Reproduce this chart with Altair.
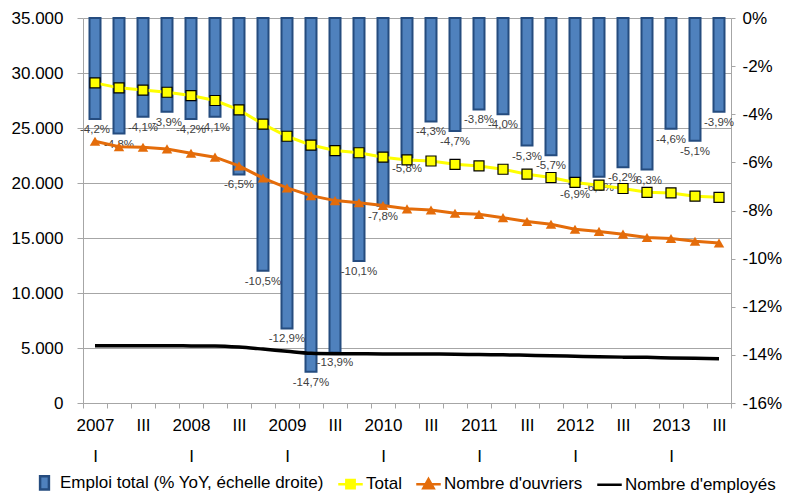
import altair as alt
import pandas as pd

years = ["2007", "2008", "2009", "2010", "2011", "2012", "2013"]
quarter_names = ["I", "II", "III", "IV"]
quarters = [f"{y} {q}" for y in years for q in quarter_names][:27]

# Emploi total, % YoY (right axis)
pct_yoy = [-4.2, -4.8, -4.1, -3.9, -4.2, -4.1, -6.5, -10.5, -12.9, -14.7, -13.9, -10.1,
           -7.8, -5.8, -4.3, -4.7, -3.8, -4.0, -5.3, -5.7, -6.9, -6.6, -6.2, -6.3,
           -4.6, -5.1, -3.9]
# Levels (left axis)
total = [29100, 28650, 28450, 28250, 27950, 27500, 26650, 25350, 24250, 23450, 22950, 22750,
         22350, 22100, 22000, 21700, 21550, 21250, 20800, 20500, 20050, 19800, 19500, 19150,
         19100, 18800, 18700]
ouvriers = [23800, 23300, 23250, 23100, 22700, 22350, 21550, 20450, 19550, 18850, 18400, 18200,
            17950, 17650, 17550, 17250, 17150, 16850, 16500, 16250, 15800, 15600, 15350, 15050,
            14950, 14700, 14550]
employes = [5200, 5200, 5200, 5200, 5190, 5180, 5080, 4900, 4700, 4520, 4480, 4470,
            4460, 4460, 4450, 4440, 4400, 4380, 4340, 4300, 4250, 4200, 4170, 4150,
            4100, 4060, 4030]

series_names = ["Emploi total (% YoY, échelle droite)", "Total", "Nombre d'ouvriers", "Nombre d'employés"]

left_ticks = [0, 5000, 10000, 15000, 20000, 25000, 30000, 35000]
right_ticks = [-16, -14, -12, -10, -8, -6, -4, -2, 0]

df = pd.DataFrame({"q": quarters, "pct": pct_yoy, "total": total,
                   "ouvriers": ouvriers, "employes": employes})
leg = pd.DataFrame({"series": series_names})

FONT = "Liberation Sans"
FS = 17
GRAY = "#A6A6A6"
BLUE = "#4F81BD"
BLUE_DARK = "#254C7F"
YELLOW = "#FFFF00"
ORANGE = "#E46C0A"

x_enc = alt.X(
    "q:O", sort=quarters,
    scale=alt.Scale(paddingInner=0, paddingOuter=0),
    axis=alt.Axis(
        title=None, labelAngle=0, labelFont=FONT, labelFontSize=FS, labelColor="#000",
        labelBaseline="top", labelLineHeight=31, labelPadding=9, labelOverlap=False,
        labelExpr="split(datum.value, ' ')[1] == 'I' ? [split(datum.value, ' ')[0], 'I'] : (split(datum.value, ' ')[1] == 'III' ? 'III' : '')",
        tickBand="extent", tickSize=5, tickColor=GRAY, domainColor=GRAY, grid=False,
    ),
)

base = alt.Chart(df)

y_right = alt.Y(
    "pct:Q", scale=alt.Scale(domain=[-16, 0], nice=False, zero=False),
    axis=alt.Axis(orient="right", values=right_ticks, labelExpr="datum.value + '%'", title=None,
                  grid=False, tickSize=4, tickColor=GRAY, domainColor=GRAY,
                  labelFont=FONT, labelFontSize=FS, labelColor="#000", labelPadding=7),
)

bars = base.mark_bar(width=11, fill=BLUE, stroke=BLUE_DARK, strokeWidth=2).encode(
    x=x_enc, y=y_right, y2=alt.datum(0)
)
bar_text = base.transform_calculate(
    lab="'-' + replace(format(abs(datum.pct), '.1f'), '.', ',') + '%'"
).mark_text(dy=11, baseline="middle", font=FONT, fontSize=11.5, color="#404040").encode(
    x=x_enc, y=alt.Y("pct:Q"), text="lab:N"
)
bars_group = alt.layer(bars, bar_text)

y_left_scale = alt.Scale(domain=[0, 35000], nice=False)
left_axis = alt.Axis(orient="left", values=left_ticks, title=None,
                     labelExpr="replace(format(datum.value, ','), ',', '.')",
                     grid=True, gridColor=GRAY, gridWidth=1, tickSize=6, tickColor=GRAY,
                     domainColor=GRAY, labelFont=FONT, labelFontSize=FS, labelColor="#000",
                     labelPadding=14)

emp_line = base.mark_line(color="#000", strokeWidth=3.5, interpolate="monotone").encode(
    x=x_enc, y=alt.Y("employes:Q", scale=y_left_scale, axis=left_axis))
ouv_line = base.mark_line(color=ORANGE, strokeWidth=3).encode(
    x=x_enc, y=alt.Y("ouvriers:Q", scale=y_left_scale))
ouv_pts = base.mark_point(shape="triangle-up", size=110, filled=True, fill=ORANGE, opacity=1).encode(
    x=x_enc, y=alt.Y("ouvriers:Q", scale=y_left_scale))
tot_line = base.mark_line(color=YELLOW, strokeWidth=3).encode(
    x=x_enc, y=alt.Y("total:Q", scale=y_left_scale))
tot_pts = base.mark_point(shape="square", size=100, filled=True, fill=YELLOW, stroke="#000",
                          strokeWidth=1.2, opacity=1).encode(
    x=x_enc, y=alt.Y("total:Q", scale=y_left_scale))

legend_def = alt.Legend(orient="none", legendX=-52, legendY=451, direction="horizontal",
                        columns=4, title=None, labelFont=FONT, labelFontSize=FS,
                        labelColor="#000", symbolSize=600, symbolStrokeWidth=2.5,
                        labelOffset=2, columnPadding=9, padding=0, labelLimit=400,
                        symbolOpacity=1)

# legend glyphs: bar swatch, line+square, line+triangle, plain line
shape_paths = [
    "M-0.36,-0.55H0.36V0.55H-0.36Z",
    "M-1,0H-0.34M0.34,0H1M-0.34,-0.34H0.34V0.34H-0.34Z",
    "M-1,0H1M0,-0.42L0.42,0.32H-0.42Z",
    "M-1,0H1",
]
fill_range = [BLUE, YELLOW, ORANGE, "transparent"]
stroke_range = [BLUE_DARK, YELLOW, ORANGE, "#000000"]

leg_markers = alt.Chart(leg).mark_point(filled=True).encode(
    x=alt.value(0), y=alt.value(0), opacity=alt.value(0),
    fill=alt.Fill("series:N", sort=series_names,
                  scale=alt.Scale(domain=series_names, range=fill_range), legend=legend_def),
    stroke=alt.Stroke("series:N", sort=series_names,
                      scale=alt.Scale(domain=series_names, range=stroke_range), legend=legend_def),
    shape=alt.Shape("series:N", sort=series_names,
                    scale=alt.Scale(domain=series_names, range=shape_paths), legend=legend_def),
)

lines_group = alt.layer(emp_line, ouv_line, ouv_pts, tot_line, tot_pts, leg_markers)

chart = alt.layer(bars_group, lines_group).resolve_scale(y="independent").properties(
    width=648, height=385,
    padding={"left": 75, "top": 10, "right": 53, "bottom": 91},
    autosize=alt.AutoSizeParams(type="none"),
    background="white",
).configure_view(stroke=None)

chart.save("out.html", embed_options={"renderer": "svg", "actions": False})
